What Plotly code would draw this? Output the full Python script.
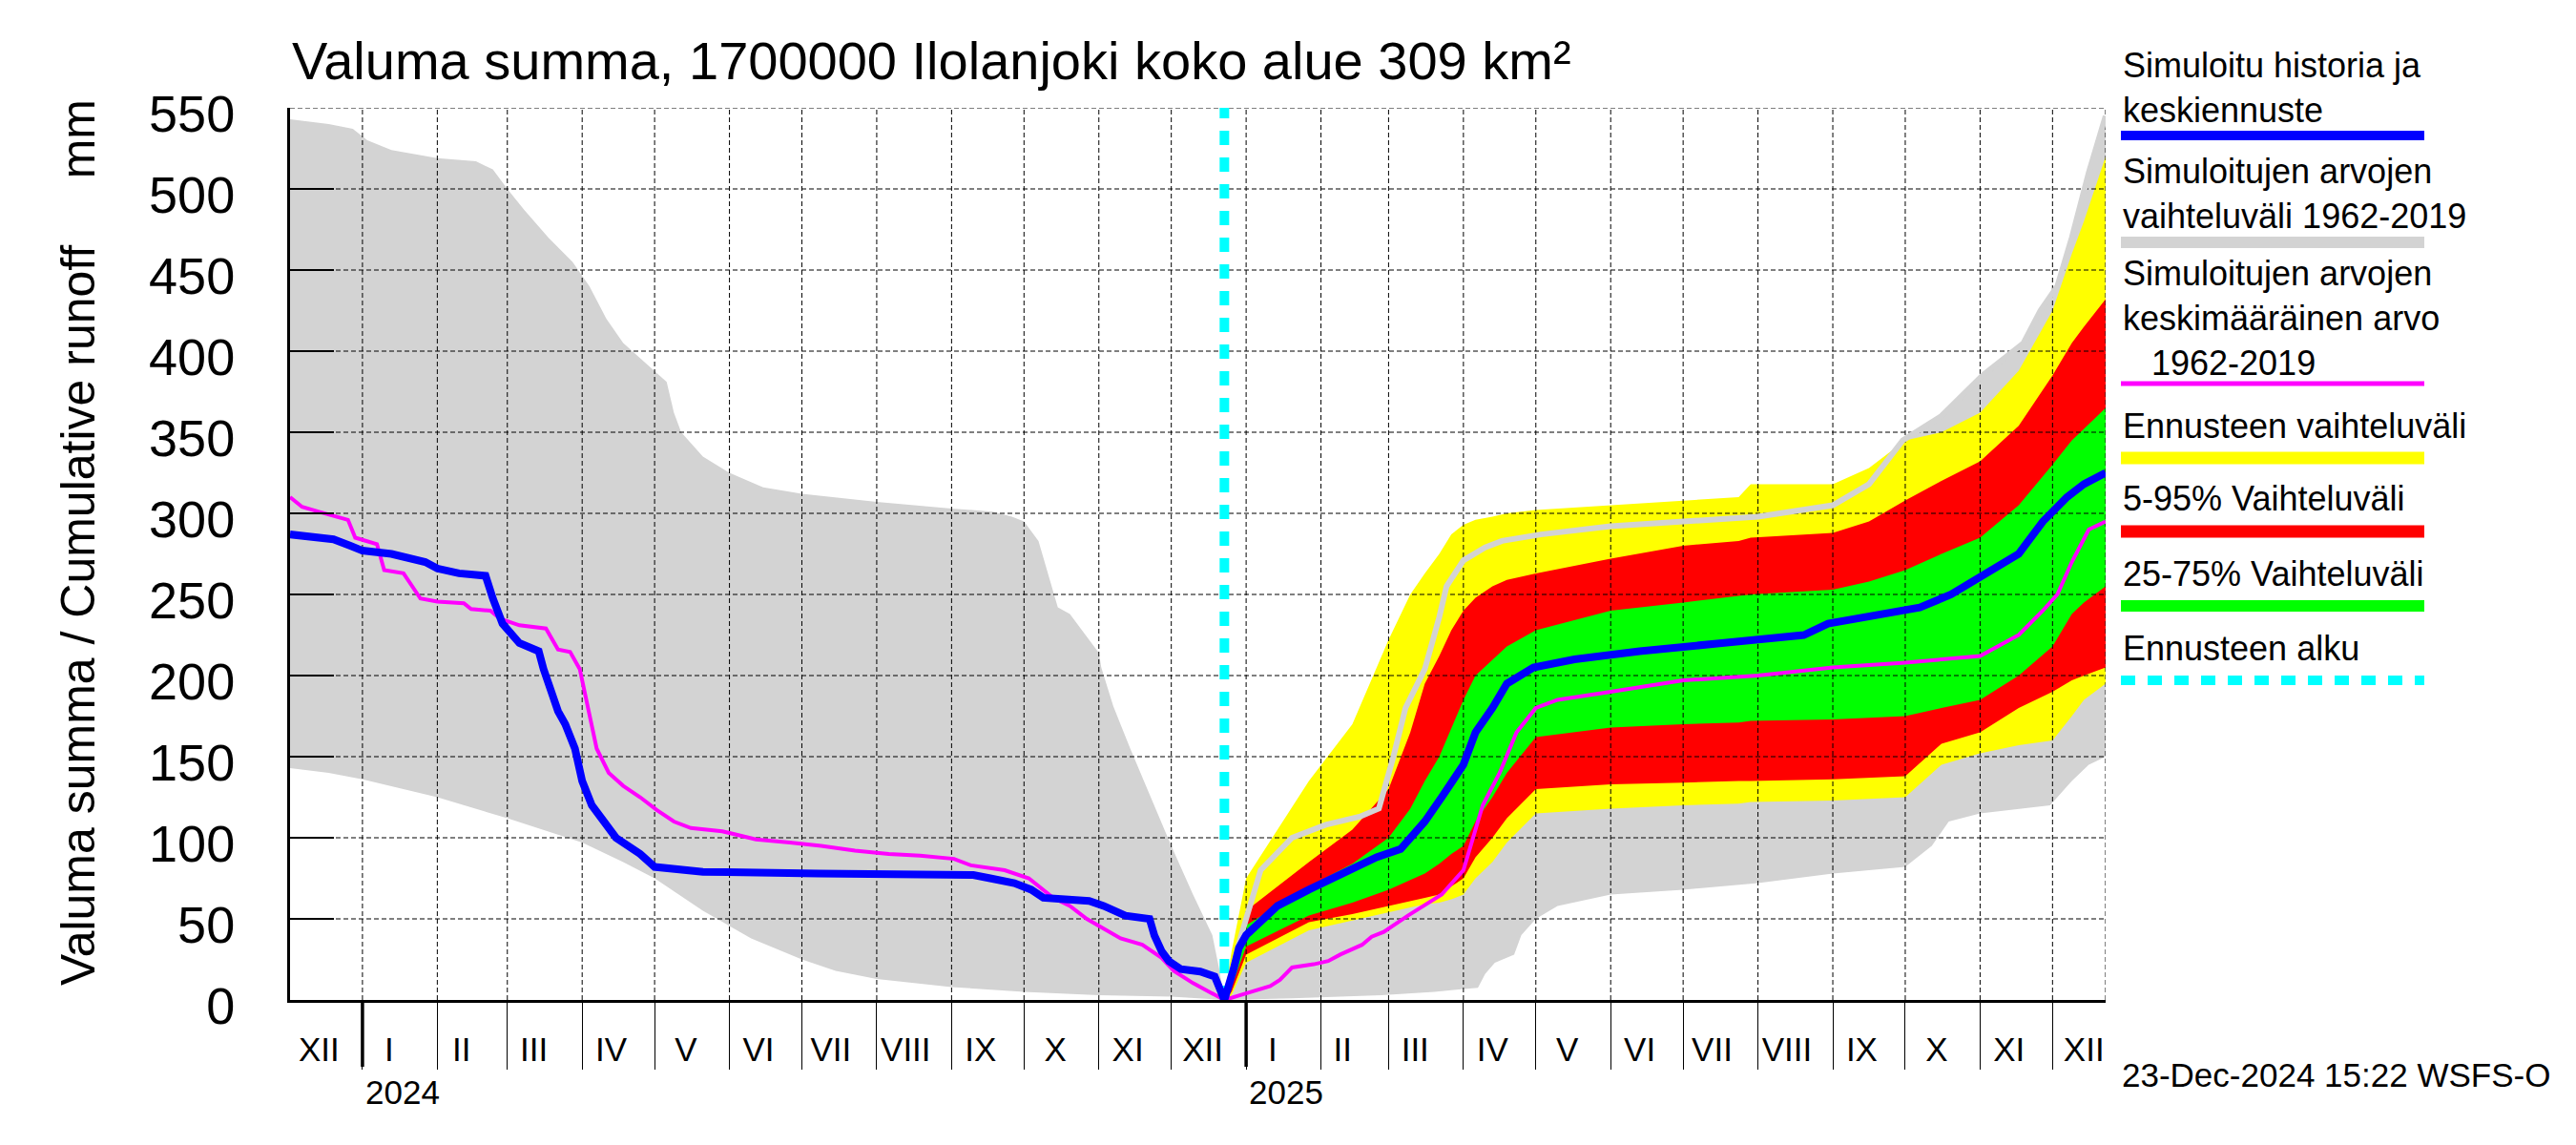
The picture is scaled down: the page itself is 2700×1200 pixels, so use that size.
import plotly.graph_objects as go

# ---------------- texts ----------------
TITLE = "Valuma summa, 1700000 Ilolanjoki koko alue 309 km²"
Y_TITLE = "Valuma summa / Cumulative runoff" + "\u00a0" * 5 + "mm"
STAMP = "23-Dec-2024 15:22 WSFS-O"

# ---------------- axes ----------------
X_RANGE = ["2023-12-02", "2025-12-23"]
FORECAST_START = "2024-12-23"
Y_RANGE = [0, 550]
Y_TICKS = [0, 50, 100, 150, 200, 250, 300, 350, 400, 450, 500, 550]
MONTH_STARTS = ["2024-01-01", "2024-02-01", "2024-03-01", "2024-04-01", "2024-05-01", "2024-06-01",
                "2024-07-01", "2024-08-01", "2024-09-01", "2024-10-01", "2024-11-01", "2024-12-01",
                "2025-01-01", "2025-02-01", "2025-03-01", "2025-04-01", "2025-05-01", "2025-06-01",
                "2025-07-01", "2025-08-01", "2025-09-01", "2025-10-01", "2025-11-01", "2025-12-01"]
MONTH_LABEL_DATES = ["2023-12-14", "2024-01-12", "2024-02-11", "2024-03-12", "2024-04-13", "2024-05-14",
                     "2024-06-13", "2024-07-13", "2024-08-13", "2024-09-13", "2024-10-14", "2024-11-13",
                     "2024-12-14", "2025-01-12", "2025-02-10", "2025-03-12", "2025-04-13", "2025-05-14",
                     "2025-06-13", "2025-07-13", "2025-08-13", "2025-09-13", "2025-10-14", "2025-11-13",
                     "2025-12-14"]
MONTH_LABELS = ["XII", "I", "II", "III", "IV", "V", "VI", "VII", "VIII", "IX", "X", "XI",
                "XII", "I", "II", "III", "IV", "V", "VI", "VII", "VIII", "IX", "X", "XI", "XII"]
YEAR_STARTS = ["2024-01-01", "2025-01-01"]
YEAR_LABELS = ["2024", "2025"]

# ---------------- data ----------------
GRAY_UP_DATES = ["2023-12-02", "2023-12-18", "2023-12-28", "2024-01-03", "2024-01-13", "2024-02-01",
                 "2024-02-17", "2024-02-24", "2024-03-01", "2024-03-08", "2024-03-18", "2024-03-28",
                 "2024-04-04", "2024-04-11", "2024-04-18", "2024-04-28", "2024-05-03", "2024-05-06",
                 "2024-05-09", "2024-05-12", "2024-05-21", "2024-06-01", "2024-06-15", "2024-07-01",
                 "2024-08-01", "2024-09-01", "2024-09-18", "2024-09-26", "2024-10-01", "2024-10-07",
                 "2024-10-13", "2024-10-15", "2024-10-20", "2024-10-22", "2024-10-27", "2024-11-01",
                 "2024-11-02", "2024-11-07", "2024-11-14", "2024-11-21", "2024-12-01", "2024-12-10",
                 "2024-12-18", "2024-12-21", "2024-12-23",
                 "2024-12-30", "2025-01-07", "2025-01-20", "2025-02-03", "2025-02-17", "2025-02-25",
                 "2025-03-03", "2025-03-08", "2025-03-13", "2025-03-16", "2025-03-22", "2025-03-25",
                 "2025-04-01", "2025-04-10", "2025-04-17", "2025-05-03", "2025-06-01", "2025-07-01",
                 "2025-08-01", "2025-09-01", "2025-09-16", "2025-09-30", "2025-10-16", "2025-11-02",
                 "2025-11-19", "2025-11-26", "2025-12-03", "2025-12-09", "2025-12-16", "2025-12-23"]
GRAY_UP = [543, 540, 537, 530, 524, 519, 517, 512, 500, 487, 470, 455, 440, 420, 405, 392, 385, 381,
           362, 350, 335, 325, 316, 312, 307, 303, 301, 298, 295, 283, 253, 242, 238, 234, 224, 214,
           205, 181, 155, 130, 95, 65, 40, 18, 0,
           40, 80, 100, 108, 113, 118, 150, 180, 195, 204, 236, 255, 271, 279, 283, 287, 292, 295,
           298, 305, 318, 345, 360, 385, 405, 425, 440, 470, 510, 545]

GRAY_LO_DATES = ["2023-12-02", "2023-12-18", "2024-01-01", "2024-02-01", "2024-03-01", "2024-04-01",
                 "2024-04-18", "2024-05-01", "2024-05-21", "2024-06-10", "2024-07-01", "2024-07-15",
                 "2024-08-01", "2024-09-01", "2024-10-01", "2024-11-01", "2024-12-01", "2024-12-23",
                 "2025-01-20", "2025-02-26", "2025-03-20", "2025-03-30", "2025-04-07", "2025-04-10",
                 "2025-04-14", "2025-04-22", "2025-04-25", "2025-05-01", "2025-05-10", "2025-06-01",
                 "2025-07-01", "2025-08-01", "2025-09-01", "2025-10-01", "2025-10-12", "2025-10-19",
                 "2025-11-01", "2025-11-30", "2025-12-09", "2025-12-16", "2025-12-23"]
GRAY_LO = [143, 140, 136, 125, 112, 97, 85, 75, 55, 38, 25, 18, 13, 8, 5, 3, 2, 0, 1, 3,
           5, 6.5, 7.5, 16, 23, 28, 40, 50, 58, 65, 68, 72, 78, 82, 95, 110, 115, 120, 135, 145, 150]

BLUE_DATES = ["2023-12-02", "2023-12-10", "2023-12-20", "2023-12-27", "2024-01-01", "2024-01-13",
              "2024-01-20", "2024-01-27", "2024-02-01", "2024-02-10", "2024-02-17", "2024-02-21",
              "2024-02-24", "2024-02-28", "2024-03-06", "2024-03-14", "2024-03-16", "2024-03-19",
              "2024-03-22", "2024-03-25", "2024-03-29", "2024-04-01", "2024-04-05", "2024-04-15",
              "2024-04-25", "2024-05-01", "2024-05-11", "2024-05-21", "2024-07-08", "2024-08-20",
              "2024-09-10", "2024-09-17", "2024-09-27", "2024-10-04", "2024-10-09", "2024-10-18",
              "2024-10-28", "2024-11-03", "2024-11-08", "2024-11-12", "2024-11-22", "2024-11-24",
              "2024-11-27", "2024-11-30", "2024-12-05", "2024-12-13", "2024-12-19", "2024-12-21",
              "2024-12-23",
              "2024-12-27", "2024-12-29", "2025-01-01", "2025-01-14", "2025-01-27", "2025-02-10",
              "2025-02-24", "2025-03-06", "2025-03-16", "2025-03-23", "2025-04-01", "2025-04-06",
              "2025-04-13", "2025-04-19", "2025-04-30", "2025-05-17", "2025-06-13", "2025-07-17",
              "2025-08-20", "2025-08-30", "2025-09-23", "2025-10-07", "2025-10-20", "2025-11-03",
              "2025-11-17", "2025-11-27", "2025-12-07", "2025-12-14", "2025-12-23"]
BLUE = [287, 286, 284, 280, 277, 275, 273, 270, 266, 263, 262, 261.5, 247.5, 232, 220, 215, 204, 190,
        178, 170, 155, 135, 120, 100, 90, 82, 80, 79, 78, 78, 77, 75, 72, 68, 63, 62, 61, 58, 55, 52,
        50, 39.8, 30, 24, 19, 17.5, 14.5, 6.5, 0,
        20, 32, 40, 58, 68, 78, 88, 93, 110, 125, 145, 165, 180, 195, 205, 210, 215, 220, 225, 232,
        238, 242, 250, 262, 275, 295, 310, 318, 325]

MEAN_DATES = ["2023-12-02", "2023-12-07", "2023-12-14", "2023-12-21", "2023-12-26", "2023-12-29",
              "2024-01-07", "2024-01-10", "2024-01-18", "2024-01-25", "2024-02-01", "2024-02-12",
              "2024-02-15", "2024-02-23", "2024-02-27", "2024-03-06", "2024-03-17", "2024-03-22",
              "2024-03-27", "2024-03-31", "2024-04-04", "2024-04-07", "2024-04-12", "2024-04-18",
              "2024-04-25", "2024-05-02", "2024-05-09", "2024-05-16", "2024-05-29", "2024-06-12",
              "2024-06-26", "2024-07-09", "2024-07-23", "2024-08-06", "2024-08-19", "2024-09-02",
              "2024-09-09", "2024-09-23", "2024-10-03", "2024-10-13", "2024-10-20", "2024-10-27",
              "2024-11-10", "2024-11-19", "2024-11-27", "2024-12-02", "2024-12-10", "2024-12-15",
              "2024-12-23",
              "2024-12-29", "2025-01-11", "2025-01-15", "2025-01-20", "2025-01-29", "2025-02-04",
              "2025-02-09", "2025-02-18", "2025-02-22", "2025-02-27", "2025-03-09", "2025-03-23",
              "2025-04-01", "2025-04-09", "2025-04-16", "2025-04-23", "2025-05-01", "2025-05-10",
              "2025-06-01", "2025-07-01", "2025-08-01", "2025-09-01", "2025-10-01", "2025-11-01",
              "2025-11-17", "2025-11-27", "2025-12-03", "2025-12-09", "2025-12-16", "2025-12-23"]
MEAN = [310, 304, 301, 298, 296, 285, 281, 265, 263, 247.5, 245.6, 244.6, 241, 240, 235, 231, 229,
        216, 214.5, 204, 175, 155, 140, 132, 125, 117, 110, 106, 104, 99, 97, 95, 92, 90, 89, 87, 83,
        80, 75, 63, 58, 50, 38, 34, 26, 18, 10.4, 6.5, 0,
        2.7, 8.6, 12.4, 20, 22, 24, 28, 34, 39, 42, 52, 65, 80, 120, 140, 165, 180, 185, 190, 197,
        200, 205, 208, 212, 225, 240, 250, 270, 290, 295]

F_DATES = ["2024-12-23", "2024-12-26", "2025-01-01", "2025-01-27", "2025-02-14", "2025-03-01",
           "2025-03-10", "2025-03-16", "2025-03-22", "2025-03-27", "2025-04-01", "2025-04-06",
           "2025-04-13", "2025-04-19", "2025-05-01", "2025-06-01", "2025-07-01", "2025-07-24",
           "2025-07-29", "2025-09-01", "2025-09-16", "2025-10-01", "2025-10-16", "2025-11-01",
           "2025-11-17", "2025-12-01", "2025-12-09", "2025-12-14", "2025-12-23"]
F_MAX = [2, 30, 75, 135, 170, 222, 250, 263, 275, 287, 293, 296, 298, 300, 302, 305, 308, 310,
         318, 318, 328, 345, 350, 362, 388, 425, 460, 480, 520]
F_P95 = [1, 20, 55, 85, 105, 130, 165, 195, 212, 228, 240, 248, 255, 259, 263, 272, 280, 283,
         285, 288, 295, 308, 320, 332, 354, 385, 405, 415, 432]
F_P75 = [1, 15, 46, 70, 84, 100, 118, 135, 150, 168, 185, 200, 210, 218, 228, 240, 245, 249,
         250, 253, 258, 265, 275, 285, 305, 330, 345, 352, 365]
F_P25 = [0, 8, 33, 52, 60, 68, 74, 78, 84, 90, 95, 110, 125, 140, 162, 168, 170, 171,
         172, 173, 174, 175, 180, 185, 200, 218, 238, 245, 255]
F_P5 = [0, 5, 28, 48, 53, 58, 61, 63, 65, 70, 75, 88, 100, 112, 130, 133, 134, 135,
        135, 136, 137, 138, 158, 165, 180, 190, 197, 200, 205]
F_MIN = [0, 3, 23, 43, 49, 54, 57, 59, 60, 62, 65, 75, 85, 97, 115, 118, 120, 121,
         122, 123, 124, 125, 145, 152, 157, 160, 175, 185, 195]

# ---------------- styles ----------------
FONT = "Liberation Sans, Arial, Helvetica, sans-serif"
C_GRAY = "#d3d3d3"
C_YELLOW = "#ffff00"
C_RED = "#ff0000"
C_GREEN = "#00ff00"
C_BLUE = "#0000ff"
C_MAG = "#ff00ff"
C_CYAN = "#00ffff"

PAGE_OFF = 8                      # default page body margin
FIG_W, FIG_H = 2700 - PAGE_OFF, 1200 - PAGE_OFF
PL, PR, PT, PB = 304, 2207, 113, 1048  # plot area in page pixels


def px(x):
    return (x - PL) / (PR - PL)


def py(y):
    return (PB - y) / (PB - PT)


fig = go.Figure()


def band(dates_up, up, dates_lo, lo, color):
    fig.add_trace(go.Scatter(x=list(dates_up) + list(dates_lo)[::-1], y=list(up) + list(lo)[::-1],
                             fill="toself", fillcolor=color, mode="lines", line=dict(width=0, color=color),
                             hoverinfo="skip", showlegend=False))


band(GRAY_UP_DATES, GRAY_UP, GRAY_LO_DATES, GRAY_LO, C_GRAY)
band(F_DATES, F_MAX, F_DATES, F_MIN, C_YELLOW)
band(F_DATES, F_P95, F_DATES, F_P5, C_RED)
band(F_DATES, F_P75, F_DATES, F_P25, C_GREEN)

# grid lines (drawn above the bands, below the lines)
gx, gy = [], []
for v in Y_TICKS[1:]:
    gx += [X_RANGE[0], X_RANGE[1], None]
    gy += [v, v, None]
for m in MONTH_STARTS + [X_RANGE[1]]:
    gx += [m, m, None]
    gy += [Y_RANGE[0], Y_RANGE[1], None]
fig.add_trace(go.Scatter(x=gx, y=gy, mode="lines", line=dict(color="black", width=1, dash="5px,3px"),
                         hoverinfo="skip", showlegend=False, connectgaps=False))

# forecast start
fig.add_trace(go.Scatter(x=[FORECAST_START, FORECAST_START], y=Y_RANGE, mode="lines",
                         line=dict(color=C_CYAN, width=10, dash="15px,13px"), hoverinfo="skip", showlegend=False))

# upper simulated envelope during forecast
fx = [d for d in GRAY_UP_DATES if d >= FORECAST_START]
fy = [v for d, v in zip(GRAY_UP_DATES, GRAY_UP) if d >= FORECAST_START]
fig.add_trace(go.Scatter(x=fx, y=fy, mode="lines", line=dict(color=C_GRAY, width=6),
                         hoverinfo="skip", showlegend=False))

fig.add_trace(go.Scatter(x=MEAN_DATES, y=MEAN, mode="lines", line=dict(color=C_MAG, width=4),
                         hoverinfo="skip", showlegend=False))
fig.add_trace(go.Scatter(x=BLUE_DATES, y=BLUE, mode="lines", line=dict(color=C_BLUE, width=8),
                         hoverinfo="skip", showlegend=False))

annotations = []
shapes = []

# title
annotations.append(dict(text=TITLE, xref="paper", yref="paper", x=px(304), y=py(64), xanchor="left",
                        yanchor="middle", showarrow=False, font=dict(size=56, color="black", family=FONT)))
# y title
annotations.append(dict(text=Y_TITLE, xref="paper", yref="paper", x=px(82), y=py(569), textangle=-90,
                        xanchor="center", yanchor="middle", showarrow=False,
                        font=dict(size=50, color="black", family=FONT)))
# year labels and year ticks
for d, t in zip(YEAR_STARTS, YEAR_LABELS):
    annotations.append(dict(text=t, xref="x", yref="paper", x=d, y=py(1144), xanchor="left", yanchor="middle",
                            xshift=1, showarrow=False, font=dict(size=35, color="black", family=FONT)))
    shapes.append(dict(type="line", xref="x", yref="paper", x0=d, x1=d, ysizemode="pixel", yanchor=0,
                       y0=0, y1=-70, line=dict(color="black", width=3.5), layer="above"))
# timestamp
annotations.append(dict(text=STAMP, xref="paper", yref="paper", x=px(2222), y=py(1126), xanchor="left",
                        yanchor="middle", showarrow=False, font=dict(size=35, color="black", family=FONT)))

# legend (text blocks + sample bars)
LEG_X0, LEG_X1 = 2223, 2541
NB = "\u00a0"
legend_texts = [
    ("Simuloitu historia ja<br>keskiennuste", 92),
    ("Simuloitujen arvojen<br>vaihteluväli 1962-2019", 203),
    ("Simuloitujen arvojen<br>keskimääräinen arvo<br>" + NB * 3 + "1962-2019", 333),
    ("Ennusteen vaihteluväli", 446),
    ("5-95% Vaihteluväli", 522),
    ("25-75% Vaihteluväli", 601),
    ("Ennusteen alku", 679),
]
for t, yc in legend_texts:
    annotations.append(dict(text=t, xref="paper", yref="paper", x=px(LEG_X0), y=py(yc), xanchor="left",
                            yanchor="middle", align="left", showarrow=False,
                            font=dict(size=36, color="black", family=FONT)))
legend_bars = [(142, 10, C_BLUE, "solid"), (254, 12, C_GRAY, "solid"), (402, 5, C_MAG, "solid"),
               (480, 13, C_YELLOW, "solid"), (557, 13, C_RED, "solid"), (635, 12, C_GREEN, "solid"),
               (713, 10, C_CYAN, "15px,13px")]
for yc, w, c, dash in legend_bars:
    shapes.append(dict(type="line", xref="paper", yref="paper", x0=px(LEG_X0), x1=px(LEG_X1),
                       y0=py(yc), y1=py(yc), line=dict(color=c, width=w, dash=dash)))

fig.update_layout(
    width=FIG_W, height=FIG_H,
    margin=dict(l=PL - PAGE_OFF, r=FIG_W - (PR - PAGE_OFF), t=PT - PAGE_OFF, b=FIG_H - (PB - PAGE_OFF), pad=0),
    paper_bgcolor="white", plot_bgcolor="white",
    font=dict(family=FONT, color="black"),
    showlegend=False,
    annotations=annotations, shapes=shapes,
    xaxis=dict(type="date", range=X_RANGE, tickmode="array", tickvals=MONTH_LABEL_DATES, ticktext=MONTH_LABELS,
               ticks="", tickfont=dict(size=35, family=FONT, color="black"), ticklabelstandoff=19,
               showline=True, linewidth=3, linecolor="black", showgrid=False, zeroline=False,
               minor=dict(tickmode="array", tickvals=MONTH_STARTS, ticks="outside", ticklen=70,
                          tickwidth=1, tickcolor="black", showgrid=False)),
    yaxis=dict(range=Y_RANGE, tickmode="array", tickvals=Y_TICKS, ticks="inside", ticklen=46, tickwidth=2,
               tickcolor="black", tickfont=dict(size=54, family=FONT, color="black"), ticklabelstandoff=44,
               ticklabelshift=6,
               showline=True, linewidth=3, linecolor="black", showgrid=False, zeroline=False),
)

fig.write_html("out.html", config={"displayModeBar": False})
